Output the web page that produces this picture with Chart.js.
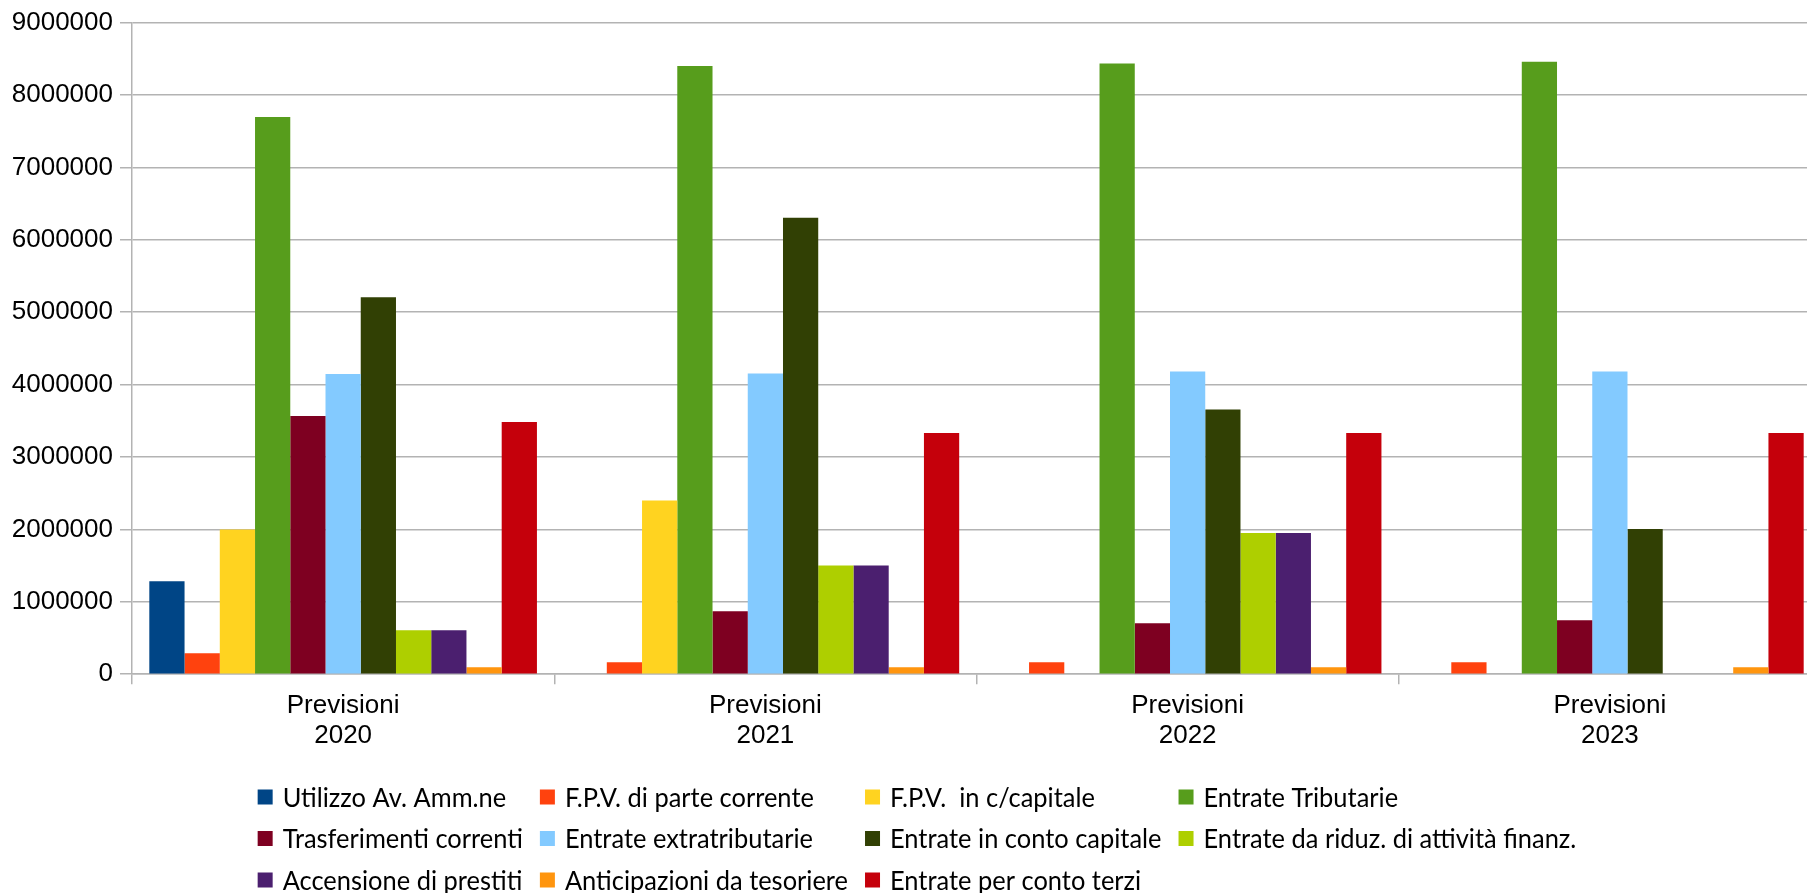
<!DOCTYPE html>
<html>
<head>
<meta charset="utf-8">
<script src="https://cdn.jsdelivr.net/npm/chart.js@4/dist/chart.umd.min.js"></script>
<style>
  html, body { margin: 0; padding: 0; background: #ffffff; overflow: hidden; width: 1807px; height: 893px; }
  #wrap { position: absolute; left: 0; top: 0; width: 1821px; height: 893px; }
</style>
</head>
<body>
<div id="wrap"><canvas id="c"></canvas></div>
<script>
// Categories (two-line tick labels)
const categories = [
  ['Previsioni', '2020'],
  ['Previsioni', '2021'],
  ['Previsioni', '2022'],
  ['Previsioni', '2023']
];

// Y axis ticks
const yTickMax = 9000000;
const yTickStep = 1000000;

// Series names
const seriesNames = [
  'Utilizzo Av. Amm.ne',
  'F.P.V. di parte corrente',
  'F.P.V.  in c/capitale',
  'Entrate Tributarie',
  'Trasferimenti correnti',
  'Entrate extratributarie',
  'Entrate in conto capitale',
  'Entrate da riduz. di attività finanz.',
  'Accensione di prestiti',
  'Anticipazioni da tesoriere',
  'Entrate per conto terzi'
];

// Series values, one per category
const utilizzoAvanzo       = [1285000, 0, 0, 0];
const fpvParteCorrente     = [290000, 166000, 166000, 166000];
const fpvContoCapitale     = [2000000, 2400000, 0, 0];
const entrateTributarie    = [7695000, 8400000, 8435000, 8460000];
const trasferimentiCorr    = [3565000, 870000, 705000, 745000];
const entrateExtratrib     = [4145000, 4155000, 4180000, 4180000];
const entrateContoCapitale = [5205000, 6305000, 3655000, 2005000];
const riduzAttivitaFinanz  = [607000, 1500000, 1950000, 0];
const accensionePrestiti   = [607000, 1500000, 1950000, 0];
const anticipazioniTesor   = [95000, 95000, 95000, 95000];
const entrateContoTerzi    = [3485000, 3330000, 3330000, 3330000];

const seriesValues = [
  utilizzoAvanzo, fpvParteCorrente, fpvContoCapitale, entrateTributarie,
  trasferimentiCorr, entrateExtratrib, entrateContoCapitale, riduzAttivitaFinanz,
  accensionePrestiti, anticipazioniTesor, entrateContoTerzi
];

const seriesColors = [
  '#004586', '#ff420e', '#ffd320', '#579d1c',
  '#7e0021', '#83caff', '#314004', '#aecf00',
  '#4b1f6f', '#ff950e', '#c5000b'
];

// Legend drawn as an aligned grid of columns below the plot
const gridLegend = {
  id: 'gridLegend',
  afterDraw(chart, args, opts) {
    const ctx = chart.ctx;
    const items = chart.data.datasets.map(d => ({ text: d.label, color: d.backgroundColor }));
    const cols = opts.columns;
    ctx.save();
    ctx.font = opts.fontSize + 'px ' + opts.fontFamily;
    ctx.textBaseline = 'middle';
    ctx.textAlign = 'left';
    const colW = [];
    for (let c = 0; c < cols; c++) {
      let w = 0;
      for (let i = c; i < items.length; i += cols) {
        w = Math.max(w, ctx.measureText(items[i].text).width * opts.scaleX);
      }
      colW.push(w);
    }
    const itemW = colW.map(w => opts.boxSize + opts.boxGap + w);
    const total = itemW.reduce((a, b) => a + b, 0) + opts.colGap * (cols - 1);
    const colX = [];
    let x = opts.centerX - total / 2;
    for (let c = 0; c < cols; c++) { colX.push(x); x += itemW[c] + opts.colGap; }
    items.forEach((it, i) => {
      const c = i % cols;
      const r = Math.floor(i / cols);
      const y = opts.top + r * opts.rowHeight;
      const bx = colX[c];
      ctx.fillStyle = it.color;
      ctx.fillRect(bx, y - opts.boxSize / 2, opts.boxSize, opts.boxSize);
      ctx.fillStyle = '#000000';
      ctx.save();
      ctx.translate(bx + opts.boxSize + opts.boxGap, y);
      ctx.scale(opts.scaleX, 1);
      ctx.fillText(it.text, 0, 1);
      ctx.restore();
    });
    ctx.restore();
  }
};

const gridColor = '#b3b3b3';

new Chart(document.getElementById('c'), {
  type: 'bar',
  data: {
    labels: categories,
    datasets: seriesNames.map((name, i) => ({
      label: name,
      data: seriesValues[i],
      backgroundColor: seriesColors[i],
      borderWidth: 0,
      categoryPercentage: 0.918,
      barPercentage: 1.0
    }))
  },
  options: {
    responsive: true,
    maintainAspectRatio: false,
    animation: false,
    layout: { padding: { top: 21, right: 0, bottom: 135, left: 0 } },
    plugins: {
      legend: { display: false },
      tooltip: { enabled: false },
      gridLegend: {
        columns: 4,
        fontSize: 27.5,
        fontFamily: 'Lato, "Noto Sans", sans-serif',
        scaleX: 0.925,
        boxSize: 15,
        boxGap: 10,
        colGap: 17,
        centerX: 917,
        top: 797,
        rowHeight: 41.5
      }
    },
    scales: {
      x: {
        offset: true,
        grid: {
          offset: true,
          drawOnChartArea: false,
          drawTicks: true,
          tickLength: 10,
          color: gridColor,
          lineWidth: 1.5
        },
        border: { display: true, color: gridColor, width: 1.5 },
        ticks: {
          color: '#000000',
          padding: 7,
          maxRotation: 0,
          autoSkip: false,
          font: { family: '"Liberation Sans", Arial, sans-serif', size: 26, lineHeight: 1.15 }
        }
      },
      y: {
        min: 0,
        max: yTickMax,
        afterFit(scale) { scale.width = 132; },
        grid: {
          color: gridColor,
          lineWidth: 1.5,
          drawTicks: true,
          tickLength: 12
        },
        border: { display: true, color: gridColor, width: 1.5 },
        ticks: {
          stepSize: yTickStep,
          color: '#000000',
          padding: 7,
          callback: v => String(v),
          font: { family: '"Liberation Sans", Arial, sans-serif', size: 26 }
        }
      }
    }
  },
  plugins: [gridLegend]
});
</script>
</body>
</html>
